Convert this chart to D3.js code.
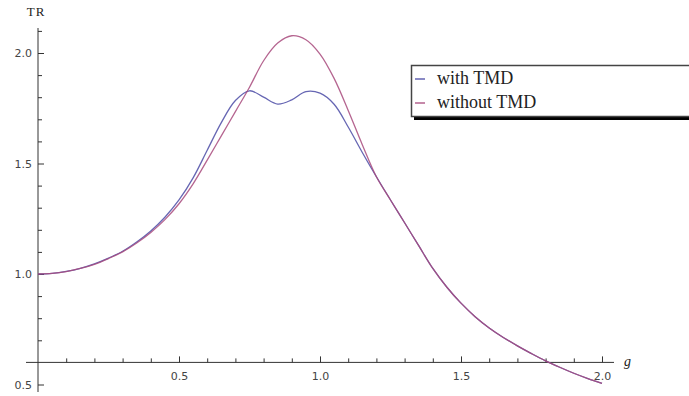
<!DOCTYPE html>
<html>
<meta charset="utf-8">
<style>
  body { margin: 0; background: #fff; }
  .tick text { font-family: "DejaVu Sans", sans-serif; font-size: 11px; fill: #444; }
</style>
<script src="https://d3js.org/d3.v7.min.js"></script>
<body>
<div id="chart"></div>
<script>

// frequency ratio g (step 0.05)
var gVals = [0, 0.05, 0.1, 0.15, 0.2, 0.25, 0.3, 0.35, 0.4, 0.45, 0.5, 0.55, 0.6, 0.65, 0.7, 0.75, 0.8, 0.85, 0.9, 0.95,
             1.0, 1.05, 1.1, 1.15, 1.2, 1.25, 1.3, 1.35, 1.4, 1.45, 1.5, 1.55, 1.6, 1.65, 1.7, 1.75, 1.8, 1.85, 1.9, 1.95, 2.0];

// transmissibility with TMD
var withTMD = [1.000, 1.003, 1.012, 1.026, 1.046, 1.072, 1.103, 1.145, 1.195, 1.257, 1.335, 1.435, 1.560, 1.685, 1.785,
               1.829, 1.800, 1.769, 1.788, 1.825, 1.818, 1.768, 1.665, 1.550, 1.440, 1.335, 1.232, 1.128, 1.025, 0.940,
               0.868, 0.807, 0.756, 0.713, 0.675, 0.640, 0.607, 0.578, 0.551, 0.527, 0.505];

// transmissibility without TMD
var withoutTMD = [1.000, 1.003, 1.011, 1.025, 1.044, 1.070, 1.100, 1.140, 1.188, 1.246, 1.318, 1.408, 1.515, 1.625, 1.735,
                  1.845, 1.965, 2.045, 2.078, 2.060, 1.995, 1.885, 1.740, 1.585, 1.440, 1.335, 1.232, 1.128, 1.025, 0.940,
                  0.868, 0.807, 0.756, 0.713, 0.675, 0.640, 0.607, 0.578, 0.551, 0.527, 0.505];

var seriesNames = ["with TMD", "without TMD"];
var xMajor = [0.5, 1.0, 1.5, 2.0];
var xMinor = [0.1, 0.2, 0.3, 0.4, 0.6, 0.7, 0.8, 0.9, 1.1, 1.2, 1.3, 1.4, 1.6, 1.7, 1.8, 1.9];
var yMajor = [0.5, 1.0, 1.5, 2.0];
var yMinor = [0.7, 0.8, 0.9, 1.1, 1.2, 1.3, 1.4, 1.6, 1.7, 1.8, 1.9, 2.1];

var colors = ["#4b4ba6", "#a84a7c"];

var W = 689, H = 396;
var svg = d3.select("#chart").append("svg")
  .attr("width", W)
  .attr("height", H);

var x = d3.scaleLinear().domain([0, 2]).range([38, 602]);
var y = d3.scaleLinear().domain([0.5, 2.0]).range([384.5, 53]);
var axisY = y(0.6); // x axis crosses here

// x axis
var xg = svg.append("g").attr("transform", "translate(0," + axisY + ")");
xg.call(d3.axisBottom(x).tickValues(xMajor).tickFormat(d3.format(".1f"))
  .tickSizeInner(-6).tickSizeOuter(0).tickPadding(10));
xg.append("g").call(d3.axisBottom(x).tickValues(xMinor).tickFormat("")
  .tickSizeInner(-4).tickSizeOuter(0));
xg.selectAll(".domain").remove();
xg.append("line").attr("x1", 26).attr("x2", 614).attr("stroke", "#333");

// y axis
var yg = svg.append("g").attr("transform", "translate(" + x(0) + ",0)");
yg.call(d3.axisLeft(y).tickValues(yMajor).tickFormat(d3.format(".1f"))
  .tickSizeInner(-6).tickSizeOuter(0).tickPadding(6));
yg.append("g").call(d3.axisLeft(y).tickValues(yMinor).tickFormat("")
  .tickSizeInner(-4).tickSizeOuter(0));
yg.selectAll(".domain").remove();
yg.append("line").attr("y1", 28).attr("y2", 392).attr("stroke", "#333");
svg.selectAll(".tick line").attr("stroke", "#333");

// axis labels
svg.append("text").attr("x", 36).attr("y", 16).attr("text-anchor", "middle")
  .style("font-family", "'Liberation Serif', serif").style("font-size", "13px")
  .style("letter-spacing", "1px").attr("fill", "#222").text("TR");
svg.append("text").attr("x", 624).attr("y", 366)
  .style("font-family", "'Liberation Serif', serif").style("font-size", "14px")
  .style("font-style", "italic").attr("fill", "#222").text("g");

// curves
var line = d3.line()
  .x(function(d) { return x(d[0]); })
  .y(function(d) { return y(d[1]); })
  .curve(d3.curveCatmullRom);

[withTMD, withoutTMD].forEach(function(vals, i) {
  svg.append("path")
    .datum(gVals.map(function(g, j) { return [g, vals[j]]; }))
    .attr("fill", "none")
    .attr("stroke", colors[i])
    .attr("stroke-width", 1.3)
    .attr("stroke-opacity", 0.85)
    .attr("d", line);
});

// legend
var lg = svg.append("g");
lg.append("rect").attr("x", 414).attr("y", 69).attr("width", 300).attr("height", 51).attr("fill", "#000");
lg.append("rect").attr("x", 411.5).attr("y", 65.5).attr("width", 300).attr("height", 51)
  .attr("fill", "#fff").attr("stroke", "#444").attr("stroke-width", 1.5);
seriesNames.forEach(function(name, i) {
  var yy = 79 + i * 24;
  lg.append("line").attr("x1", 415).attr("x2", 425).attr("y1", yy).attr("y2", yy)
    .attr("stroke", colors[i]).attr("stroke-width", 1.3);
  lg.append("text").attr("x", 437).attr("y", yy + 5)
    .style("font-family", "'Liberation Serif', serif").style("font-size", "18px")
    .attr("fill", "#222").text(name);
});

</script>
</body>
</html>
